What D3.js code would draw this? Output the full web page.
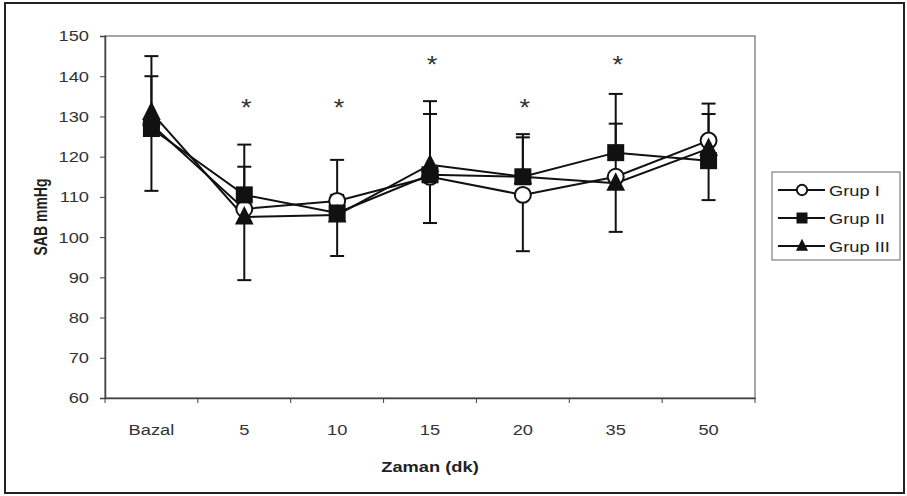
<!DOCTYPE html>
<html>
<head>
<meta charset="utf-8">
<style>
  body { margin: 0; background: #fff; }
  text { font-family: "Liberation Sans", Arial, sans-serif; }
</style>
</head>
<body>
<script src="https://d3js.org/d3.v7.min.js"></script>
<script>
// chart size
var width = 907;
var height = 496;
var padding = { top: 36, right: 152, bottom: 98, left: 105 };
// the scanned figure is a little stretched sideways, text follows it
var stretch = 1.18;
var fontSize = 15.5;

// data
var categories = ['Bazal', '5', '10', '15', '20', '35', '50'];
var yTicks = [60, 70, 80, 90, 100, 110, 120, 130, 140, 150];

var grup1 = [128, 107, 109, 115, 110.5, 115, 124];
var grup2 = [127, 110.5, 106, 115.5, 115, 121, 119];
var grup3 = [131, 105, 105.5, 118, 115, 113.4, 122];

// standard deviations (grup1 drawn downward, grup2 and grup3 upward)
var sd1 = [16.5, 17.7, 13.7, 11.5, 14, 13.7, 14.8];
var sd2 = [18, 12.5, 13.2, 18.3, 10.6, 14.6, 14.2];
var sd3 = [9, 12.5, 5, 12.6, 9.8, 14.8, 8.6];

// significance marks: category + height in mmHg
var starCats = ['5', '10', '15', '20', '35'];
var starVals = [132.5, 132.5, 143.3, 132.5, 143.3];

var series = [
  { name: 'Grup I', values: grup1, sd: sd1, dir: -1, shape: 'circle' },
  { name: 'Grup II', values: grup2, sd: sd2, dir: 1, shape: 'square' },
  { name: 'Grup III', values: grup3, sd: sd3, dir: 1, shape: 'triangle' }
];

var svg = d3.select('body')
  .append('svg')
  .attr('width', width)
  .attr('height', height);

// outer frame
svg.append('rect')
  .attr('x', 5).attr('y', 3)
  .attr('width', 899).attr('height', 490)
  .attr('fill', '#fff')
  .attr('stroke', '#222')
  .attr('stroke-width', 2);

var xScale = d3.scaleBand()
  .domain(categories)
  .range([padding.left, width - padding.right])
  .padding(0);

var yScale = d3.scaleLinear()
  .domain([60, 150])
  .range([height - padding.bottom, padding.top]);

var cx = function(c) { return xScale(c) + xScale.bandwidth() / 2; };

// plot area border
svg.append('rect')
  .attr('x', padding.left)
  .attr('y', padding.top)
  .attr('width', width - padding.right - padding.left)
  .attr('height', height - padding.bottom - padding.top)
  .attr('fill', 'none')
  .attr('stroke', '#888')
  .attr('stroke-width', 1.5);

// y axis
var yAxis = d3.axisLeft(yScale)
  .tickValues(yTicks)
  .tickSize(5)
  .tickPadding(11);

var gy = svg.append('g')
  .attr('transform', 'translate(' + padding.left + ',0)')
  .call(yAxis);
gy.select('.domain').attr('stroke', '#444').attr('stroke-width', 1.5);
gy.selectAll('.tick line').attr('stroke', '#444');
gy.selectAll('.tick text')
  .attr('font-size', fontSize)
  .attr('fill', '#333')
  .attr('x', -16 / stretch)
  .attr('transform', 'scale(' + stretch + ',1)')
  .style('font-family', '"Liberation Sans", Arial, sans-serif');

// x axis
var xAxis = d3.axisBottom(xScale)
  .tickSize(0)
  .tickPadding(26);

var gx = svg.append('g')
  .attr('transform', 'translate(0,' + (height - padding.bottom) + ')')
  .call(xAxis);
gx.select('.domain').attr('stroke', '#444').attr('stroke-width', 1.5);
gx.selectAll('.tick text')
  .attr('font-size', fontSize)
  .attr('fill', '#333')
  .attr('transform', 'scale(' + stretch + ',1)')
  .style('font-family', '"Liberation Sans", Arial, sans-serif');

// boundary ticks between categories
var edges = d3.range(categories.length + 1);
gx.selectAll('.edge')
  .data(edges)
  .enter()
  .append('line')
  .attr('x1', function(i) { return padding.left + i * xScale.step(); })
  .attr('x2', function(i) { return padding.left + i * xScale.step(); })
  .attr('y1', 0)
  .attr('y2', 5)
  .attr('stroke', '#444');

// axis titles
svg.append('text')
  .attr('transform', 'translate(47,' + ((padding.top + height - padding.bottom) / 2) + ') rotate(-90) scale(1,1.3)')
  .attr('text-anchor', 'middle')
  .attr('font-size', 14)
  .attr('font-weight', 'bold')
  .attr('fill', '#222')
  .text('SAB mmHg');

svg.append('text')
  .attr('transform', 'translate(' + ((padding.left + width - padding.right) / 2) + ',472) scale(' + stretch + ',1)')
  .attr('text-anchor', 'middle')
  .attr('font-size', fontSize)
  .attr('font-weight', 'bold')
  .attr('fill', '#222')
  .text('Zaman (dk)');

// error bars
series.forEach(function(s) {
  var g = svg.append('g');
  categories.forEach(function(c, i) {
    var y0 = yScale(s.values[i]);
    var y1 = yScale(s.values[i] + s.dir * s.sd[i]);
    var x = cx(c);
    g.append('line')
      .attr('x1', x).attr('x2', x)
      .attr('y1', y0).attr('y2', y1)
      .attr('stroke', '#111').attr('stroke-width', 2);
    g.append('line')
      .attr('x1', x - 7).attr('x2', x + 7)
      .attr('y1', y1).attr('y2', y1)
      .attr('stroke', '#111').attr('stroke-width', 2);
  });
});

// lines
var linePath = d3.line()
  .x(function(d) { return cx(d[0]); })
  .y(function(d) { return yScale(d[1]); });

series.forEach(function(s) {
  svg.append('path')
    .attr('d', linePath(d3.zip(categories, s.values)))
    .attr('fill', 'none')
    .attr('stroke', '#111')
    .attr('stroke-width', 2);
});

// markers
function drawMarker(g, shape, x, y, size) {
  if (shape === 'circle') {
    g.append('circle')
      .attr('cx', x).attr('cy', y).attr('r', size * 0.47)
      .attr('fill', '#fff').attr('stroke', '#111').attr('stroke-width', 2);
  } else if (shape === 'square') {
    g.append('rect')
      .attr('x', x - size / 2).attr('y', y - size / 2)
      .attr('width', size).attr('height', size)
      .attr('fill', '#111');
  } else {
    var h = size * 1.05;
    g.append('path')
      .attr('d', 'M' + x + ',' + (y - h * 0.62) +
        'L' + (x + size * 0.55) + ',' + (y + h * 0.42) +
        'L' + (x - size * 0.55) + ',' + (y + h * 0.42) + 'Z')
      .attr('fill', '#111');
  }
}

series.forEach(function(s) {
  var g = svg.append('g');
  categories.forEach(function(c, i) {
    drawMarker(g, s.shape, cx(c), yScale(s.values[i]), 17);
  });
});

// significance asterisks
svg.selectAll('.star')
  .data(d3.zip(starCats, starVals))
  .enter()
  .append('text')
  .attr('transform', function(d) {
    return 'translate(' + (cx(d[0]) + 2) + ',' + (yScale(d[1]) + 10) + ') scale(' + stretch + ',1)';
  })
  .attr('text-anchor', 'middle')
  .attr('font-size', 23)
  .attr('fill', '#333')
  .text('*');

// legend
var legend = svg.append('g').attr('transform', 'translate(772,172)');
legend.append('rect')
  .attr('width', 128).attr('height', 88)
  .attr('fill', '#fff')
  .attr('stroke', '#666')
  .attr('stroke-width', 1);

series.forEach(function(s, i) {
  var ly = 18 + i * 28;
  legend.append('line')
    .attr('x1', 6).attr('x2', 53)
    .attr('y1', ly).attr('y2', ly)
    .attr('stroke', '#111').attr('stroke-width', 2);
  drawMarker(legend, s.shape, 30, ly, 11);
  legend.append('text')
    .attr('transform', 'translate(57,' + (ly + 5.5) + ') scale(' + stretch + ',1)')
    .attr('font-size', fontSize)
    .attr('fill', '#222')
    .text(s.name);
});
</script>
</body>
</html>
